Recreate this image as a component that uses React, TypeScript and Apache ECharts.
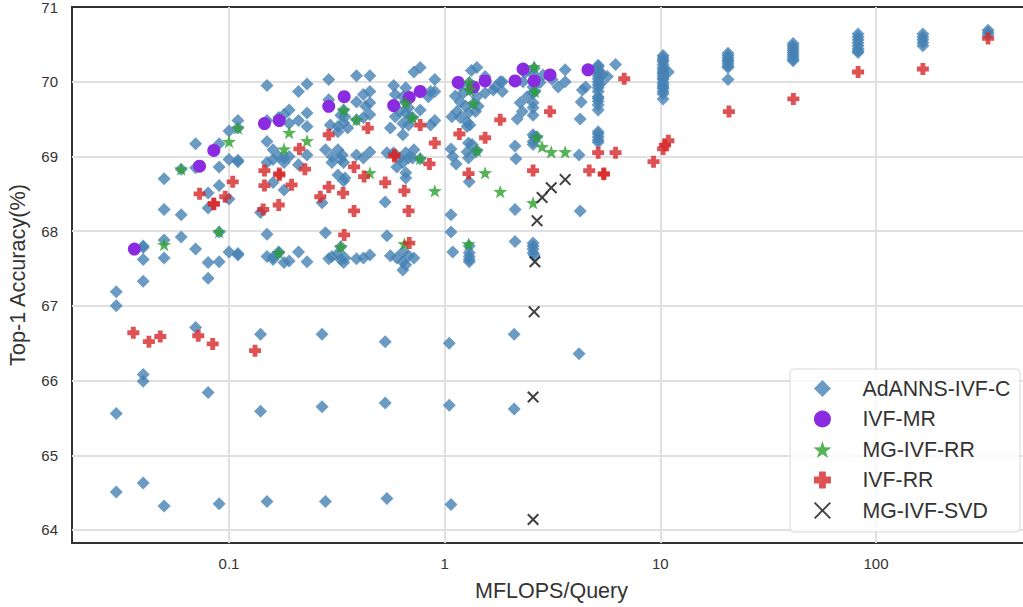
import React, { useEffect, useRef } from "react";
import * as echarts from "echarts";

const seriesNames = ["AdANNS-IVF-C", "IVF-MR", "MG-IVF-RR", "IVF-RR", "MG-IVF-SVD"];
const xTickValues = [0.1, 1, 10, 100];
const yGridValues = [64, 65, 66, 67, 68, 69, 70];
const yLabelValues = [64, 65, 66, 67, 68, 69, 70, 71];

const adannsLow: number[][] = [
  [.03,64.51],[.04,64.63],[.05,64.32],[.09,64.35],[.15,64.38],[.28,64.38],[.54,64.42],[1.07,64.34],
  [.03,65.56],[.04,65.99],[.04,66.08],[.08,65.84],[.14,65.59],[.27,65.65],[.53,65.70],[1.05,65.67],[2.1,65.62],
  [.07,66.71],[.14,66.62],[.27,66.62],[.53,66.52],[1.05,66.50],[2.1,66.62],[4.2,66.36],
  [.03,67.0],[.03,67.19],[.04,67.33],[.04,67.62],[.04,67.80],[.04,67.78],[.05,67.64],[.05,67.88],[.05,68.29],[.05,68.70],
  [.06,67.92],[.06,68.22],[.06,68.83],[.07,67.76],[.07,68.85],[.07,69.17],[.08,67.37],[.08,67.58],[.08,68.31],[.08,68.51],
  [.09,67.59],[.09,67.99],[.09,68.61],[.09,68.86],[.09,69.17],[.1,67.72],[.1,68.43],[.1,68.96],[.1,69.34],[.11,67.70],[.11,67.68],
  [.11,68.93],[.11,68.95],[.11,69.38],[.11,69.48],
];
const adannsMid: number[][] = [
  [.14,68.25],[.15,67.96],[.15,67.66],[.15,68.92],[.15,69.2],[.15,69.48],[.15,69.95],
  [.16,67.65],[.16,68.96],[.16,69.09],[.16,68.65],[.16,67.62],[.17,69.52],[.17,69.0],[.17,67.72],[.17,67.71],
  [.18,69.56],[.18,68.98],[.18,68.92],[.18,68.55],[.18,67.58],[.19,69.62],[.19,69.44],[.19,69.0],[.19,67.6],
  [.21,69.87],[.21,69.48],[.21,68.89],[.21,67.72],[.23,69.97],[.23,69.58],[.23,69.40],[.23,69.02],[.23,67.59],
  [.27,68.38],[.28,67.98],[.28,69.09],[.29,70.03],[.29,69.76],[.295,69.42],[.29,67.63],[.30,69.0],[.30,68.92],[.30,67.66],
  [.32,69.09],[.32,69.40],[.32,69.33],[.32,68.75],[.32,67.70],[.33,69.55],[.33,68.96],[.33,67.62],[.33,67.79],[.335,69.02],
  [.34,69.45],[.34,69.62],[.34,68.92],[.34,67.58],[.345,69.53],[.345,68.71],[.345,67.64],[.355,69.38],[.34,68.67],
  [.39,70.08],[.39,69.73],[.39,69.49],[.39,69.02],[.39,67.63],[.42,69.83],[.42,69.52],[.42,68.98],[.42,67.64],[.43,69.67],
  [.45,70.08],[.45,69.87],[.45,69.72],[.45,69.56],[.45,69.06],[.45,67.68],
];
const adannsCentre: number[][] = [
  [.53,68.39],[.54,67.94],[.54,69.05],[.56,69.38],[.56,67.67],[.58,69.95],[.58,69.05],[.59,69.83],[.59,69.53],[.60,68.86],[.60,67.64],
  [.62,69.6],[.62,68.98],[.64,69.44],[.64,69.29],[.64,69.8],[.64,68.92],[.64,67.72],[.64,67.59],[.64,67.48],
  [.66,69.92],[.66,69.72],[.66,69.58],[.66,69.05],[.66,68.78],[.66,68.71],[.66,67.55],[.68,69.8],[.68,69.65],[.68,69.42],[.68,68.98],[.68,67.67],
  [.69,69.52],[.71,69.52],[.71,68.98],[.72,70.13],[.72,69.09],[.72,67.64],[.77,70.19],[.77,69.62],[.77,68.97],[.84,69.8],[.86,69.87],[.86,69.42],
  [.90,70.03],[.90,69.87],[.90,69.48],
  [1.07,69.10],[1.09,69.0],[1.13,68.90],[1.07,68.22],[1.07,67.99],[1.09,67.72],
  [1.08,69.53],[1.12,69.81],[1.14,69.6],[1.18,69.95],[1.18,69.73],[1.18,69.52],[1.22,69.85],[1.25,69.67],[1.27,69.46],[1.27,69.40],
  [1.29,69.58],[1.3,69.99],[1.31,69.89],[1.31,69.42],[1.33,70.15],[1.36,69.71],[1.41,70.19],[1.41,69.8],[1.41,69.08],[1.43,69.67],[1.39,69.6],[1.54,70.07],[1.54,69.85],[1.68,69.89],
  [1.72,69.93],[1.81,70.0],[1.85,69.87],[1.85,70.0],
  [1.29,69.18],[1.27,69.06],[1.29,68.98],[1.39,69.06],[1.34,69.16],[1.30,68.66],[1.30,67.80],[1.30,67.71],[1.30,67.66],[1.30,67.62],[1.30,67.59],
];
const adannsRight: number[][] = [
  [2.12,69.14],[2.14,68.97],[2.12,68.29],[2.12,67.86],[2.17,69.5],[2.24,69.72],[2.29,69.6],[2.31,70.0],[2.36,70.12],[2.41,69.8],
  [2.6,70.18],[2.57,70.1],[2.57,70.0],[2.57,69.93],[2.62,69.87],
  [2.57,69.85],[2.57,69.72],[2.57,69.65],[2.57,69.55],[2.57,69.29],[2.57,69.2],[2.57,69.16],[2.6,69.26],[2.68,69.26],
  [2.77,69.99],[2.86,70.09],[3.15,70.03],[3.36,69.93],[3.62,70.16],[3.62,70.0],
  [2.57,67.84],[2.57,67.8],[2.57,67.76],[2.57,67.71],[2.6,67.68],
  [4.2,69.02],[4.25,68.27],[4.25,69.5],[4.3,69.73],[4.35,69.89],[4.5,69.93],
  [5.15,70.22],[5.15,70.2],[5.15,70.15],[5.15,70.12],[5.15,70.08],[5.15,70.04],[5.15,70.0],[5.15,69.96],[5.15,69.92],[5.15,69.87],
  [5.15,69.8],[5.15,69.78],[5.15,69.74],[5.15,69.69],[5.15,69.62],
  [5.15,69.33],[5.15,69.3],[5.15,69.26],[5.15,69.22],[5.15,69.19],[5.68,70.07],[6.2,70.23],[5.4,70.1],[5.3,69.98],
];
const adannsTop: number[][] = [
  [10.3,70.35],[10.3,70.32],[10.3,70.29],[10.3,70.27],[10.3,70.23],[10.3,70.19],[10.3,70.16],[10.3,70.13],[10.3,70.11],[10.3,70.08],
  [10.3,70.05],[10.3,70.03],[10.3,69.99],[10.3,69.96],[10.3,69.93],[10.3,69.91],[10.3,69.87],[10.3,69.84],[10.3,69.77],[10.9,70.13],
  [20.6,70.38],[20.6,70.35],[20.6,70.32],[20.6,70.29],[20.6,70.27],[20.6,70.24],[20.6,70.21],[20.6,70.19],[20.6,70.03],
  [41.3,70.51],[41.3,70.48],[41.3,70.45],[41.3,70.42],[41.3,70.39],[41.3,70.36],[41.3,70.33],[41.3,70.30],[41.3,70.28],
  [82.6,70.64],[82.6,70.6],[82.6,70.56],[82.6,70.52],[82.6,70.48],[82.6,70.44],[82.6,70.41],[82.6,70.39],
  [165,70.64],[165,70.6],[165,70.56],[165,70.52],[165,70.48],
  [331,70.69],[331,70.66],[331,70.63],
];
const ivfMr: number[][] = [
  [.0364,67.76],[.073,68.87],[.085,69.08],[.146,69.44],[.171,69.48],[.29,69.67],[.342,69.80],[.58,69.68],[.685,69.79],[.77,69.87],
  [1.155,69.99],[1.36,69.93],[1.54,70.01],[2.12,70.01],[2.31,70.17],[2.6,70.01],[3.08,70.09],[4.62,70.16],
];
const mgIvfRr: number[][] = [
  [.05,67.82],[.06,68.83],[.09,67.99],[.1,69.2],[.11,69.38],[.17,67.71],[.18,69.1],[.19,69.32],[.23,69.21],[.33,67.79],[.34,69.62],
  [.39,69.49],[.45,68.78],[.65,67.83],[.66,69.72],[.71,69.52],[.77,68.97],[.90,68.54],[1.29,67.83],[1.3,69.99],[1.31,69.89],[1.36,69.71],
  [1.41,69.08],[1.54,68.78],[1.81,68.53],[2.57,68.38],[2.6,70.2],[2.62,69.87],[2.68,69.26],[2.83,69.13],[3.12,69.06],[3.62,69.06],
];
const ivfRr: number[][] = [
  [.036,66.64],[.0425,66.52],[.048,66.59],[.072,66.6],[.084,66.49],[.132,66.4],
  [.073,68.5],[.085,68.37],[.085,68.36],[.096,68.46],[.104,68.66],[.144,68.29],[.146,68.81],[.146,68.61],[.17,68.35],[.171,68.75],[.171,68.77],
  [.195,68.62],[.212,69.1],[.225,68.83],[.265,68.46],[.29,69.29],[.29,68.59],[.338,68.51],[.342,67.95],[.38,68.86],[.38,68.27],[.423,68.73],[.44,69.38],
  [.53,68.65],[.585,69.02],[.585,69.0],[.65,68.54],[.68,68.27],[.685,67.84],[.77,69.42],[.85,68.9],[.90,69.18],
  [1.17,69.3],[1.29,68.77],[1.54,69.25],[1.81,69.49],[2.57,68.81],[3.08,69.6],[4.68,68.81],[5.15,69.05],[5.47,68.77],[5.47,68.76],[6.2,69.05],[6.8,70.04],
  [9.3,68.93],[10.3,69.10],[10.5,69.15],[10.9,69.21],[20.8,69.6],[41.4,69.77],[82.6,70.13],[165,70.17],[331,70.58],
];
const mgIvfSvd: number[][] = [
  [2.57,64.14],[2.57,65.78],[2.6,66.92],[2.62,67.59],[2.68,68.14],[2.83,68.45],[3.12,68.58],[3.62,68.69],
];
const adanns = [...adannsLow, ...adannsMid, ...adannsCentre, ...adannsRight, ...adannsTop];

const DIAMOND = "path://M50 0L100 50L50 100L0 50Z";
const STAR = "path://M50 0L61.8 34.5L100 36.3L69.6 59.5L80.9 95.1L50 74L19.1 95.1L30.4 59.5L0 36.3L38.2 34.5Z";
const PLUS = "path://M30 0H70V30H100V70H70V100H30V70H0V30H30Z";
const CROSS_LEGEND = "path://M8 0L50 42L92 0L100 8L58 50L100 92L92 100L50 58L8 100L0 92L42 50L0 8Z";
const CROSS = "path://M12 0L50 38L88 0L100 12L62 50L100 88L88 100L50 62L12 100L0 88L38 50L0 12Z";
const FONT = "'Liberation Sans', Arial, sans-serif";

export default function App() {
  const ref = useRef<HTMLDivElement>(null);
  useEffect(() => {
    document.body.style.margin = "0";
    const chart = echarts.init(ref.current!, undefined, { renderer: "svg" });
    const scatter = (i: number, data: number[][], symbol: string, symbolSize: number, color: string, opacity = 0.8) => ({
      name: seriesNames[i],
      type: "scatter",
      data,
      symbol,
      symbolSize,
      symbolKeepAspect: true,
      itemStyle: { color, opacity },
      emphasis: { disabled: true },
    });
    chart.setOption({
      animation: false,
      grid: { left: 72, top: 7, width: 953, height: 536, show: true, borderColor: "#333", borderWidth: 2, backgroundColor: "#fff", outerBoundsMode: "none" },
      xAxis: {
        type: "log", logBase: 10, min: 0.0187, max: 491,
        name: "MFLOPS/Query", nameLocation: "middle", nameGap: 37,
        nameTextStyle: { fontFamily: FONT, fontSize: 21.5, color: "#333", padding: [0, 0, 0, 6] },
        axisLine: { show: false },
        axisTick: { show: false, customValues: xTickValues },
        splitLine: { show: true, lineStyle: { color: "#e0e0e0", width: 2 } },
        minorSplitLine: { show: false },
        axisLabel: {
          fontFamily: FONT, fontSize: 15, color: "#333", margin: 13, customValues: xTickValues,
        },
      },
      yAxis: {
        type: "value", min: 63.826, max: 71,
        name: "Top-1 Accuracy(%)", nameLocation: "middle", nameGap: 44,
        nameTextStyle: { fontFamily: FONT, fontSize: 21.7, color: "#333" },
        axisLine: { show: false },
        axisTick: { show: false, customValues: yGridValues },
        splitLine: { show: true, lineStyle: { color: "#e0e0e0", width: 2 } },
        axisLabel: {
          fontFamily: FONT, fontSize: 15, color: "#333", margin: 14, customValues: yLabelValues,
        },
      },
      legend: {
        left: 813.5, top: 378, orient: "vertical", padding: 0, itemWidth: 70, itemHeight: 17, itemGap: 9.5, z: 6,
        textStyle: { fontFamily: FONT, fontSize: 21.3, color: "#333", lineHeight: 20 },
        selectedMode: false,
        data: [
          { name: seriesNames[0], icon: DIAMOND },
          { name: seriesNames[1], icon: "circle" },
          { name: seriesNames[2], icon: STAR },
          { name: seriesNames[3], icon: PLUS },
          { name: seriesNames[4], icon: CROSS_LEGEND },
        ],
      },
      graphic: [
        { type: "rect", z: 5, shape: { x: 790, y: 369, width: 230, height: 163, r: 4 }, style: { fill: "rgba(255,255,255,0.8)", stroke: "#d8d8d8", lineWidth: 1 } },
      ],
      series: [
        scatter(0, adanns, "diamond", 13, "#4682b4"),
        scatter(1, ivfMr, "circle", 13, "#8a2be2", 1),
        scatter(2, mgIvfRr, STAR, 14, "#2ca02c"),
        scatter(3, ivfRr, PLUS, 12, "#d62728"),
        scatter(4, mgIvfSvd, CROSS, 12, "#111"),
      ],
    });
    return () => chart.dispose();
  }, []);
  return <div ref={ref} style={{ width: 1023, height: 607 }} />;
}
